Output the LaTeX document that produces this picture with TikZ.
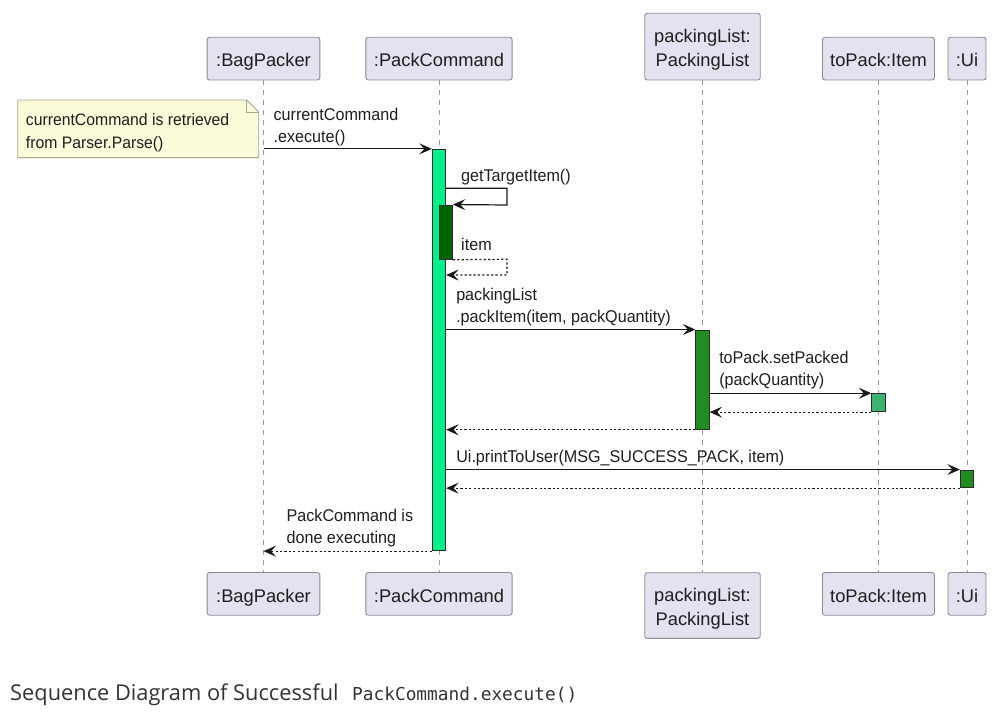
\documentclass[tikz,border=0pt]{standalone}
\usepackage{fontspec}
\setmainfont{Liberation Sans}
\newfontfamily\msgfont{Liberation Sans}[FakeStretch=0.95]
\newfontfamily\capfont{Open Sans}
\newfontfamily\codefont{DejaVu Sans Mono}
\usetikzlibrary{arrows.meta,backgrounds}
\definecolor{partfill}{HTML}{E2E2F0}
\definecolor{partborder}{HTML}{8A8A96}
\definecolor{lifegray}{HTML}{9A9A9A}
\definecolor{arrowcol}{HTML}{181818}
\definecolor{txt}{HTML}{1E1E1E}
\definecolor{mainbar}{HTML}{00F08A}
\definecolor{darkbar}{HTML}{006400}
\definecolor{forestbar}{HTML}{228B22}
\definecolor{seabar}{HTML}{3CB371}
\definecolor{barborder}{HTML}{2A2A2A}
\definecolor{notefill}{HTML}{FBFBDA}
\definecolor{noteborder}{HTML}{A8A890}
\definecolor{captxt}{HTML}{333333}
\newcommand\twol[2]{\begin{tabular}[b]{@{}l@{}}#1\\#2\end{tabular}}
\newcommand\twoc[2]{\begin{tabular}[b]{@{}c@{}}#1\\#2\end{tabular}}
\tikzset{
  participant/.style={draw=partborder, fill=partfill, rounded corners=2.5pt, line width=0.9pt,
    inner sep=0pt, text depth=0pt, text height=16.4pt, minimum height=42.7pt,
    font=\fontsize{18.3}{24}\selectfont, text=txt},
  lifeline/.style={draw=lifegray, dash pattern=on 5pt off 5pt, line width=0.9pt},
  bar/.style={draw=barborder, line width=0.9pt, inner sep=0pt, minimum width=13.4pt},
  msg/.style={draw=arrowcol, line width=1.2pt, -{Stealth[length=12.5pt,width=11pt,inset=5pt]}},
  ret/.style={msg, dash pattern=on 2.2pt off 2.2pt},
  lbl/.style={font=\msgfont\fontsize{17}{22}\selectfont, inner sep=0pt, text=txt},
  notebox/.style={inner xsep=8pt, inner ysep=0pt, text depth=0pt, text height=38.7pt,
    minimum height=57.3pt, font=\msgfont\fontsize{16.6}{23}\selectfont, text=txt},
  noteshape/.style={draw=noteborder, fill=notefill, line width=0.9pt}
}
\begin{document}
\begin{tikzpicture}[x=1pt,y=-1pt]
\useasboundingbox (0,0) rectangle (996,714);

% participants (top)
\node[participant, minimum width=112.7pt] (bpT) at (263.5,58.65) {:BagPacker};
\node[participant, minimum width=146.3pt] (pcT) at (439,58.65) {:PackCommand};
\node[participant, minimum width=115.5pt, minimum height=66.7pt, text height=40.6pt] (plT) at (702.5,46.65) {\twoc{packingList:}{PackingList}};
\node[participant, minimum width=112pt] (tpT) at (878.5,58.65) {toPack:Item};
\node[participant, minimum width=38pt] (uiT) at (967,58.65) {:Ui};

% participants (bottom)
\node[participant, minimum width=112.7pt] (bpB) at (263.5,593.85) {:BagPacker};
\node[participant, minimum width=146.3pt] (pcB) at (439,593.85) {:PackCommand};
\node[participant, minimum width=115.5pt, minimum height=65.6pt, text height=39pt] (plB) at (702.5,605.5) {\twoc{packingList:}{PackingList}};
\node[participant, minimum width=112pt] (tpB) at (878.5,593.85) {toPack:Item};
\node[participant, minimum width=38pt] (uiB) at (967,593.85) {:Ui};

% lifelines
\draw[lifeline] (bpT.south) -- (bpB.north);
\draw[lifeline] (pcT.south) -- (pcB.north);
\draw[lifeline] (plT.south) -- (plB.north);
\draw[lifeline] (tpT.south) -- (tpB.north);
\draw[lifeline] (uiT.south) -- (uiB.north);

% activation bars
\node[bar, fill=mainbar, minimum height=401.4pt] (b1) at (439,350) {};
\node[bar, fill=darkbar, minimum height=54.3pt] (b2) at (445.7,232.15) {};
\node[bar, fill=forestbar, minimum height=99.3pt] (b3) at (702.5,379.65) {};
\node[bar, fill=seabar, minimum height=18pt] (b4) at (878.5,402.7) {};
\node[bar, fill=forestbar, minimum height=17.7pt] (b5) at (967,478.85) {};

% note
\node[notebox, anchor=north west] (note) at (17.7,100)
  {\makebox[224.6pt][l]{\twol{currentCommand is retrieved}{from Parser.Parse()}}};
\begin{scope}[on background layer]
\draw[noteshape] (note.north west) -- ([xshift=-12pt]note.north east) -- ([yshift=-12pt]note.north east)
  -- (note.south east) -- (note.south west) -- cycle;
\draw[draw=noteborder, line width=0.9pt] ([xshift=-12pt]note.north east) -- ([xshift=-12pt,yshift=-12pt]note.north east) -- ([yshift=-12pt]note.north east);
\end{scope}

% coordinates
\coordinate (m1s) at (bpT.south |- b1.north);
\coordinate (selfA) at (507,188.3);
\coordinate (selfB) at (507,205);
\coordinate (selfC) at (507,259.3);
\coordinate (selfD) at (507,275);
\coordinate (m10e) at (bpT.south |- b1.south);

% messages
\draw[msg] (m1s) -- (b1.north west)
  node[lbl, at start, anchor=base west, xshift=9.5pt, yshift=6pt] {\twol{currentCommand}{.execute()}};
\draw[msg] (b1.east |- selfA) -- (selfA) -- (selfB) -- (b2.north east);
\node[lbl, anchor=base west] (l2) at (461,181.7) {getTargetItem()};
\draw[ret] (b2.south east) -- (selfC) -- (selfD) -- (b1.east |- selfD);
\node[lbl, anchor=base west] (l3) at (461,250.7) {item};
\draw[msg] (b1.east |- b3.north) -- (b3.north west)
  node[lbl, at start, anchor=base west, xshift=9.5pt, yshift=6.7pt] {\twol{packingList}{.packItem(item, packQuantity)}};
\draw[msg] (b3.east |- b4.north) -- (b4.north west)
  node[lbl, at start, anchor=base west, xshift=9pt, yshift=7.5pt] {\twol{toPack.setPacked}{(packQuantity)}};
\draw[ret] (b4.south west) -- (b3.east |- b4.south);
\draw[ret] (b3.south west) -- (b1.east |- b3.south);
\draw[msg] (b1.east |- b5.north) -- (b5.north west)
  node[lbl, at start, anchor=base west, xshift=9.5pt, yshift=6.7pt] {Ui.printToUser(MSG\_SUCCESS\_PACK, item)};
\draw[ret] (b5.south west) -- (b1.east |- b5.south);
\draw[ret] (b1.south west) -- (m10e)
  node[lbl, at end, anchor=base west, xshift=22.5pt, yshift=7.2pt] {\twol{PackCommand is}{done executing}};

% caption
\node[anchor=base west, inner sep=0pt, font=\capfont\fontsize{21.8}{26}\selectfont, text=captxt] (cap1) at (10,700) {Sequence Diagram of Successful};
\node[anchor=base west, inner sep=0pt, font=\codefont\fontsize{17.8}{20}\selectfont, text=captxt] (cap2) at (352,700) {PackCommand.execute()};
\end{tikzpicture}
\end{document}
